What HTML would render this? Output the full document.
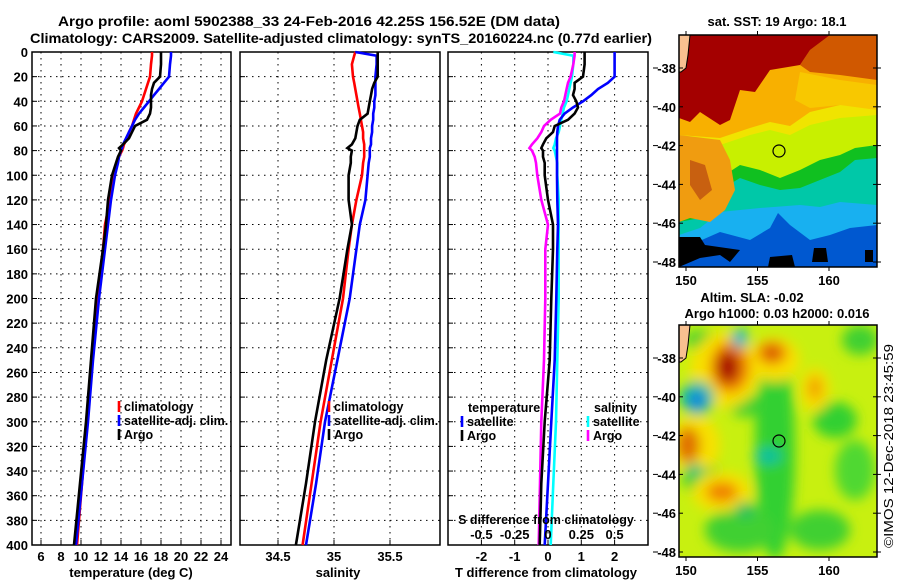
<!DOCTYPE html>
<html><head><meta charset="utf-8"><style>
html,body{margin:0;padding:0;background:#fff;}
svg{display:block;font-family:"Liberation Sans",sans-serif;font-weight:bold;}
</style></head><body>
<svg id="fig" width="900" height="580" viewBox="0 0 900 580">
<defs>
<filter id="blur6" x="-50%" y="-50%" width="200%" height="200%"><feGaussianBlur stdDeviation="6"/></filter>
<filter id="blur3" x="-50%" y="-50%" width="200%" height="200%"><feGaussianBlur stdDeviation="3"/></filter>
<clipPath id="clipTop"><rect x="679" y="35" width="198" height="232"/></clipPath>
<clipPath id="clipBot"><rect x="679" y="325" width="198" height="232"/></clipPath>
</defs>
<text x="58" y="26" font-size="14" textLength="502" lengthAdjust="spacingAndGlyphs">Argo profile: aoml 5902388_33 24-Feb-2016 42.25S 156.52E (DM data)</text>
<text x="30" y="43" font-size="14" textLength="622" lengthAdjust="spacingAndGlyphs">Climatology: CARS2009. Satellite-adjusted climatology: synTS_20160224.nc (0.77d earlier)</text>

<g id="p1"></g>
<g id="p2"></g>
<g id="p3"></g>

<!-- SST map -->
<g>
<text x="777" y="26" font-size="13" text-anchor="middle">sat. SST: 19 Argo: 18.1</text>
<g clip-path="url(#clipTop)">
<rect x="679" y="35" width="198" height="232" fill="#0058d0"/>
<polygon fill="#18b0f0" points="679,250 720,232 750,240 770,228 778,213 790,225 810,240 830,235 850,228 877,225 877,35 679,35"/>
<polygon fill="#00c8a8" points="679,235 700,228 720,212 760,208 800,205 820,207 840,202 877,205 877,35 679,35"/>
<polygon fill="#10c020" points="679,222 700,218 720,190 740,178 760,185 780,190 800,188 820,180 840,172 855,160 877,158 877,35 679,35"/>
<polygon fill="#c8f000" points="679,200 720,178 740,165 760,170 780,178 800,170 820,160 840,155 855,148 877,145 877,35 679,35"/>
<polygon fill="#f0e400" points="679,140 720,145 750,135 770,130 790,135 810,125 840,118 877,115 877,35 679,35"/>
<polygon fill="#f8b000" points="679,135 720,138 750,128 770,122 790,126 810,112 840,105 877,100 877,35 679,35"/>
<polygon fill="#f8c800" points="800,72 840,80 877,85 877,110 840,105 810,108 795,100"/>
<polygon fill="#f09c10" points="679,135 720,140 730,160 735,190 725,210 710,222 690,218 679,222"/>
<polygon fill="#c86010" points="690,160 705,165 712,190 700,200 690,185"/>
<polygon fill="#d05800" points="830,35 877,35 877,80 840,75 810,72 800,65 810,50"/>
<polygon fill="#a40000" points="679,35 830,35 810,50 800,65 770,70 755,92 740,90 730,120 720,125 700,112 690,122 679,118"/>
<polygon fill="#000" points="679,237 700,237 705,245 740,250 730,262 720,255 700,258 679,267"/>
<polygon fill="#000" points="770,257 792,255 795,267 768,267"/>
<polygon fill="#000" points="814,248 826,248 828,262 812,262"/>
<rect x="865" y="250" width="8" height="12" fill="#000"/>
<polygon fill="#f8c090" stroke="#000" stroke-width="1" points="679,35 690,35 688,55 686,68 681,72 679,72"/>
</g>
<rect x="679" y="35" width="198" height="232" fill="none" stroke="#000" stroke-width="1.5"/>
<circle cx="779" cy="151" r="6" fill="none" stroke="#000" stroke-width="1.2"/>
<g id="mapTopAxes"></g>
</g>

<!-- SLA map -->
<g>
<text x="752" y="302" font-size="13" text-anchor="middle">Altim. SLA: -0.02</text>
<text x="777" y="318" font-size="13" text-anchor="middle">Argo h1000: 0.03 h2000: 0.016</text>
<g clip-path="url(#clipBot)">
<rect x="679" y="325" width="198" height="232" fill="#c8f010"/>
<g filter="url(#blur6)">
<ellipse cx="775" cy="450" rx="20" ry="110" fill="#30d030"/>
<ellipse cx="835" cy="420" rx="22" ry="18" fill="#30d030"/>
<ellipse cx="855" cy="470" rx="20" ry="30" fill="#50d830"/>
<ellipse cx="700" cy="475" rx="18" ry="20" fill="#30d030"/>
<ellipse cx="740" cy="530" rx="35" ry="22" fill="#40d030"/>
<ellipse cx="820" cy="530" rx="30" ry="20" fill="#40d030"/>
<ellipse cx="745" cy="405" rx="16" ry="12" fill="#40d030"/>
<ellipse cx="860" cy="340" rx="18" ry="15" fill="#40d030"/>
<ellipse cx="700" cy="340" rx="15" ry="10" fill="#40d030"/>
<ellipse cx="725" cy="370" rx="35" ry="38" fill="#f8e000"/>
<ellipse cx="775" cy="360" rx="25" ry="22" fill="#f8e000"/>
<ellipse cx="695" cy="445" rx="25" ry="30" fill="#f8e000"/>
<ellipse cx="722" cy="492" rx="30" ry="20" fill="#f8e000"/>
<ellipse cx="815" cy="390" rx="15" ry="22" fill="#f8e000"/>
<ellipse cx="730" cy="367" rx="20" ry="26" fill="#f08000"/>
<ellipse cx="728" cy="367" rx="11" ry="16" fill="#a80000"/>
<ellipse cx="772" cy="353" rx="15" ry="12" fill="#f08000"/>
<ellipse cx="772" cy="353" rx="6" ry="5" fill="#c03000"/>
<ellipse cx="688" cy="445" rx="12" ry="18" fill="#e07000"/>
<ellipse cx="722" cy="492" rx="16" ry="10" fill="#f08000"/>
<ellipse cx="815" cy="388" rx="7" ry="12" fill="#f0a000"/>
<ellipse cx="697" cy="398" rx="17" ry="17" fill="#00c0a0"/>
<ellipse cx="697" cy="400" rx="9" ry="9" fill="#2080e0"/>
<ellipse cx="768" cy="456" rx="14" ry="8" fill="#00c0a0"/>
<ellipse cx="740" cy="338" rx="8" ry="10" fill="#00b8c8"/>
<ellipse cx="695" cy="470" rx="9" ry="6" fill="#00c080"/>
<ellipse cx="745" cy="510" rx="10" ry="8" fill="#20c060"/>
</g>
<polygon fill="#f8c090" stroke="#000" stroke-width="1" points="679,325 690,325 688,345 686,358 681,362 679,362"/>
</g>
<rect x="679" y="325" width="198" height="232" fill="none" stroke="#000" stroke-width="1.5"/>
<circle cx="779" cy="441" r="6" fill="none" stroke="#000" stroke-width="1.2"/>
<g id="mapBotAxes"></g>
<text transform="translate(893,548) rotate(-90)" font-size="13" font-weight="normal" textLength="204" lengthAdjust="spacingAndGlyphs">©IMOS 12-Dec-2018 23:45:59</text>
</g>
</svg>
<script>
// ---- data ----
const depths = [0,3,10,20,25,30,35,40,45,50,55,60,65,70,75,78,80,85,90,100,120,140,160,200,250,300,350,400];
const tempClim = [17.1,17.1,17.0,16.9,16.7,16.5,16.3,16.1,15.8,15.5,15.3,15.1,14.8,14.6,14.3,14.2,14.1,13.8,13.6,13.3,12.9,12.4,12.2,11.6,11.1,10.6,10.1,9.6];
const tempSat = [19.0,19.0,18.9,18.8,18.3,17.8,17.3,16.8,16.3,15.8,15.4,15.1,14.8,14.5,14.2,14.1,14.0,13.8,13.7,13.4,13.0,12.7,12.4,11.8,11.2,10.7,10.1,9.5];
const tempArgo = [18.0,18.0,18.0,17.9,17.3,17.1,17.0,17.0,17.0,16.9,16.6,15.4,15.1,14.8,14.2,13.8,14.0,13.7,13.5,13.1,12.7,12.5,12.2,11.5,11.0,10.5,9.9,9.3];
const salClim = [35.19,35.18,35.16,35.17,35.18,35.19,35.20,35.21,35.22,35.23,35.24,35.25,35.26,35.26,35.27,35.27,35.27,35.27,35.26,35.25,35.20,35.16,35.13,35.08,34.98,34.88,34.80,34.72];
const salSat = [35.19,35.38,35.38,35.37,35.37,35.37,35.37,35.36,35.36,35.35,35.35,35.34,35.34,35.33,35.33,35.32,35.32,35.32,35.31,35.30,35.28,35.23,35.20,35.14,35.03,34.92,34.84,34.75];
const salArgo = [35.39,35.39,35.39,35.39,35.36,35.34,35.33,35.32,35.31,35.30,35.23,35.21,35.20,35.19,35.16,35.12,35.16,35.15,35.15,35.13,35.13,35.16,35.12,35.05,34.93,34.83,34.75,34.66];
const tDiffSat = [2.0,2.0,2.0,2.0,1.8,1.5,1.3,1.05,0.75,0.5,0.35,0.3,0.28,0.27,0.27,0.27,0.27,0.27,0.27,0.27,0.28,0.3,0.28,0.25,0.2,0.1,0.0,-0.1];
const tDiffArgo = [1.1,1.1,1.1,1.05,0.8,0.8,0.75,0.85,0.9,0.8,0.6,0.2,0.15,-0.05,-0.15,-0.2,-0.15,-0.15,-0.1,-0.1,0,0.15,0.15,0.1,0.05,-0.1,-0.2,-0.25];
const sDiffSat = [0.04,0.19,0.19,0.18,0.17,0.16,0.15,0.14,0.12,0.11,0.1,0.09,0.08,0.06,0.05,0.04,0.05,0.06,0.07,0.07,0.08,0.08,0.08,0.08,0.07,0.06,0.04,0.02];
const sDiffArgo = [0.2,0.2,0.19,0.17,0.15,0.14,0.13,0.12,0.1,0.09,0.02,-0.03,-0.05,-0.08,-0.12,-0.14,-0.12,-0.1,-0.09,-0.08,-0.05,0.0,-0.02,-0.02,-0.03,-0.05,-0.06,-0.07];
const depthTicks = [0,20,40,60,80,100,120,140,160,180,200,220,240,260,280,300,320,340,360,380,400];
const tempTicks = [6,8,10,12,14,16,18,20,22,24];
const salTicks = [34.5,35,35.5];
const tDiffTicks = [-2,-1,0,1,2];
const sDiffTicks = [-0.5,-0.25,0,0.25,0.5];
const latTicks = [-38,-40,-42,-44,-46,-48];
const lonTicks = [150,155,160];

const NS='http://www.w3.org/2000/svg';
function mk(tag, attrs, parent, txt){const e=document.createElementNS(NS,tag);for(const k in attrs)e.setAttribute(k,attrs[k]);if(txt!==undefined)e.textContent=txt;parent.appendChild(e);return e;}
const Y0=52, Y1=545;
const yD = d => Y0 + d*(Y1-Y0)/400;
const xT = t => 41 + (t-6)*10;
const xS = s => 334 + (s-35)*112;
const xTD = t => 548 + t*33.3;
const xSD = s => 548 + s*133.2;

function frame(g, x0, x1, showDepthLabels, vgrid){
  depthTicks.forEach(d=>{
    if(d>0&&d<400){const l=mk('line',{x1:x0,x2:x1,y1:yD(d),y2:yD(d),stroke:'#000','stroke-width':1,'stroke-dasharray':'1.5 4.5'},g);
    
    }
    const tk=mk('line',{x1:x0,x2:x0+5,y1:yD(d),y2:yD(d),stroke:'#000'},g);
    
    
    if(showDepthLabels){const t=mk('text',{x:28,y:yD(d)+5,'font-size':13,'text-anchor':'end'},g,String(d));
    
    }
  });
  vgrid.forEach(x=>{const l=mk('line',{x1:x,x2:x,y1:Y0,y2:Y1,stroke:'#000','stroke-width':1,'stroke-dasharray':'1.5 4.5'},g);
    
    
    const tk=mk('line',{x1:x,x2:x,y1:Y1,y2:Y1-5,stroke:'#000'},g);
    
    });
  const r=mk('rect',{x:x0,y:Y0,width:x1-x0,height:Y1-Y0,fill:'none',stroke:'#000','stroke-width':1.5},g);
  
  
}
function line(g, vals, xf, color, name){
  const pts=vals.map((v,i)=>xf(v).toFixed(1)+','+yD(depths[i]).toFixed(1)).join(' ');
  const p=mk('polyline',{points:pts,fill:'none',stroke:color,'stroke-width':2.6,'stroke-linejoin':'miter'},g);
  
  
}
function legendItem(g,x,y,color,label,name){
  const m=mk('line',{x1:x,x2:x,y1:y-10,y2:y+1,stroke:color,'stroke-width':2.6},g);
  
  
  const t=mk('text',{x:x+5,y:y,'font-size':12.5},g,label);
  
  
}
function xlabels(g, ticks, xf, y, name){
  ticks.forEach(v=>{const t=mk('text',{x:xf(v),y:y,'font-size':13,'text-anchor':'middle'},g,String(v));
  
  });
}

// panel 1
const p1=document.getElementById('p1');
frame(p1,32,231,true,tempTicks.map(xT));
line(p1,tempClim,xT,'#ff0000','temp-climatology-line');
line(p1,tempSat,xT,'#0000ff','temp-satellite-line');
line(p1,tempArgo,xT,'#000000','temp-argo-line');
xlabels(p1,tempTicks,xT,561,'temperature-tick-label');
let t1=mk('text',{x:131,y:577,'font-size':13,'text-anchor':'middle'},p1,'temperature (deg C)');


legendItem(p1,119,411,'#ff0000','climatology','legend-climatology');
legendItem(p1,119,425,'#0000ff','satellite-adj. clim.','legend-satellite-adj');
legendItem(p1,119,439,'#000000','Argo','legend-argo');

// panel 2
const p2=document.getElementById('p2');
frame(p2,240,440,false,salTicks.map(xS));
line(p2,salClim,xS,'#ff0000','sal-climatology-line');
line(p2,salSat,xS,'#0000ff','sal-satellite-line');
line(p2,salArgo,xS,'#000000','sal-argo-line');
xlabels(p2,salTicks,xS,561,'salinity-tick-label');
let t2=mk('text',{x:338,y:577,'font-size':13,'text-anchor':'middle'},p2,'salinity');


legendItem(p2,329,411,'#ff0000','climatology','legend-climatology');
legendItem(p2,329,425,'#0000ff','satellite-adj. clim.','legend-satellite-adj');
legendItem(p2,329,439,'#000000','Argo','legend-argo');

// panel 3
const p3=document.getElementById('p3');
frame(p3,448,648,false,tDiffTicks.map(xTD));
line(p3,sDiffSat,xSD,'#00ffff','s-diff-satellite-line');
line(p3,tDiffSat,xTD,'#0000ff','t-diff-satellite-line');
line(p3,sDiffArgo,xSD,'#ff00ff','s-diff-argo-line');
line(p3,tDiffArgo,xTD,'#000000','t-diff-argo-line');
let lt=mk('text',{x:468,y:412,'font-size':12.5},p3,'temperature');


legendItem(p3,462,426,'#0000ff','satellite','legend-t-satellite');
legendItem(p3,462,440,'#000000','Argo','legend-t-argo');
let ls=mk('text',{x:594,y:412,'font-size':12.5},p3,'salinity');


legendItem(p3,588,426,'#00ffff','satellite','legend-s-satellite');
legendItem(p3,588,440,'#ff00ff','Argo','legend-s-argo');
let sd=mk('text',{x:546,y:524,'font-size':12.5,'text-anchor':'middle'},p3,'S difference from climatology');


xlabels(p3,sDiffTicks,xSD,539,'s-diff-tick-label');
xlabels(p3,tDiffTicks,xTD,561,'t-diff-tick-label');
let t3=mk('text',{x:546,y:577,'font-size':13,'text-anchor':'middle'},p3,'T difference from climatology');



// map axes
function mapAxes(id, top){
  const g=document.getElementById(id);
  const bottom=top+232;
  const yLat=lat=> top+33 + (-38-lat)*19.4;
  const xLon=lon=> 686 + (lon-150)*14.3;
  latTicks.forEach(l=>{
    const y=yLat(l);
    const t=mk('text',{x:676,y:y+5,'font-size':13,'text-anchor':'end'},g,String(l));
    
    
    mk('line',{x1:679,x2:683,y1:y,y2:y,stroke:'#000'},g);
    mk('line',{x1:873,x2:881,y1:y,y2:y,stroke:'#000'},g);
    mk('line',{x1:653,x2:658,y1:y,y2:y,stroke:'#000'},g);
  });
  lonTicks.forEach(l=>{
    const x=xLon(l);
    const t=mk('text',{x:x,y:bottom+18,'font-size':13,'text-anchor':'middle'},g,String(l));
    
    
    mk('line',{x1:x,x2:x,y1:top,y2:top-4,stroke:'#000'},g);
    mk('line',{x1:x,x2:x,y1:bottom,y2:bottom+4,stroke:'#000'},g);
  });
}
mapAxes('mapTopAxes',35);
mapAxes('mapBotAxes',325);
</script>
</body></html>
